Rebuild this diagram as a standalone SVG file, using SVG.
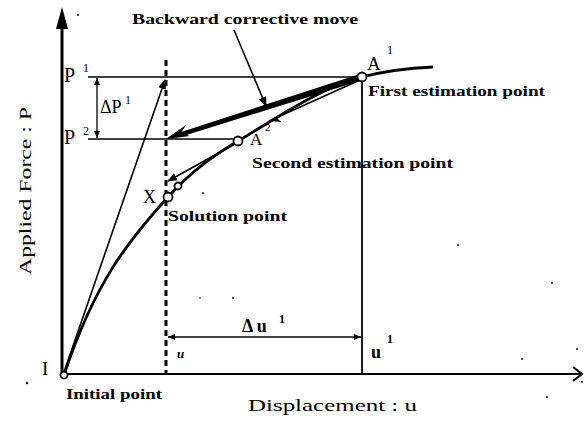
<svg xmlns="http://www.w3.org/2000/svg" width="586" height="423" viewBox="0 0 586 423">
<defs>
<style>
.t{font-family:"Liberation Serif","Times New Roman",serif;fill:#000}
.b{font-weight:bold}
.ln{stroke:#000;fill:none}
.pt{fill:#fff;stroke:#000;stroke-width:1.8}
.dot{fill:#000}
</style>
<marker id="ah" markerWidth="10" markerHeight="8" refX="9" refY="4" orient="auto" markerUnits="userSpaceOnUse">
<path d="M0,0 L10,4 L0,8 Z" fill="#000"/>
</marker>
<marker id="ahs" markerWidth="7" markerHeight="6" refX="7" refY="3" orient="auto-start-reverse" markerUnits="userSpaceOnUse">
<path d="M0,0 L7,3 L0,6 Z" fill="#000"/>
</marker>
<marker id="half" markerWidth="12" markerHeight="8" refX="11" refY="6" orient="auto" markerUnits="userSpaceOnUse">
<path d="M0,0 L11,6 L3,6 Z" fill="#000"/>
</marker>
</defs>
<rect width="586" height="423" fill="#fff"/>

<g id="axes">
<line class="ln" x1="62" y1="375" x2="62" y2="26" stroke-width="3"/>
<path d="M62,7 L56,29 L68,29 Z" fill="#000"/>
<line class="ln" x1="62" y1="374" x2="581" y2="374" stroke-width="2"/>
<path class="ln" d="M573,367 L582,374 L573,381" stroke-width="2"/>
</g>

<g id="guides">
<line class="ln" x1="166" y1="60" x2="166" y2="374" stroke-width="3" stroke-dasharray="6,4"/>
<line class="ln" x1="88" y1="77" x2="358" y2="77" stroke-width="1.5"/>
<line class="ln" x1="88" y1="139" x2="234" y2="139" stroke-width="1.5"/>
<line class="ln" x1="362" y1="81" x2="362" y2="374" stroke-width="1.8"/>
</g>

<g id="connectors">
<line class="ln" x1="97" y1="78" x2="97" y2="138" stroke-width="1.3" marker-start="url(#ahs)" marker-end="url(#ahs)"/>
<line class="ln" x1="168" y1="337" x2="361" y2="337" stroke-width="1.5" marker-start="url(#ahs)" marker-end="url(#ahs)"/>
<line class="ln" x1="64" y1="372" x2="165" y2="80" stroke-width="1.6" marker-end="url(#ah)"/>
<path class="ln" d="M64,375 C95,282 128,241 168,197 C193,169.5 213,156 238,141 C280,116 320,88 362,77 C385,71 410,68 433,67" stroke-width="2.8"/>
<polygon points="360,74 363,80 180,137 178,133" fill="#000"/>
<path d="M166,139 L186,125 L181,133 L190,136 Z" fill="#000"/>
<line class="ln" x1="360" y1="80" x2="269" y2="121" stroke-width="1.6" marker-end="url(#half)"/>
<line class="ln" x1="235" y1="144" x2="168" y2="181" stroke-width="1.6" marker-end="url(#ah)"/>
<line class="ln" x1="234" y1="30" x2="266" y2="106" stroke-width="1.5" marker-end="url(#ah)"/>
</g>

<g id="node-I"><circle class="pt" cx="64" cy="375" r="3.5"/></g>
<g id="node-A1"><circle class="pt" cx="362" cy="77" r="4.5"/></g>
<g id="node-A2"><circle class="pt" cx="238" cy="141" r="4.5"/></g>
<g id="node-X"><circle class="pt" cx="168" cy="197" r="4.5"/></g>
<g id="node-X2"><circle class="pt" cx="178" cy="186" r="3.5"/></g>

<g id="labels">
<text class="t b" x="132" y="24" font-size="15" textLength="226" lengthAdjust="spacingAndGlyphs">Backward corrective move</text>
<text class="t b" x="368" y="96" font-size="14" textLength="177" lengthAdjust="spacingAndGlyphs">First estimation point</text>
<text class="t b" x="252" y="168" font-size="14" textLength="201" lengthAdjust="spacingAndGlyphs">Second estimation point</text>
<text class="t b" x="168" y="221" font-size="14" textLength="119" lengthAdjust="spacingAndGlyphs">Solution point</text>
<text class="t b" x="66" y="399" font-size="14" textLength="96" lengthAdjust="spacingAndGlyphs">Initial point</text>
<text class="t" x="248" y="411" font-size="17" textLength="169" lengthAdjust="spacingAndGlyphs">Displacement : u</text>
<text class="t" transform="translate(31,275) rotate(-90)" x="0" y="0" font-size="17" textLength="168" lengthAdjust="spacingAndGlyphs">Applied Force : P</text>

<text class="t" x="42" y="375" font-size="19">I</text>
<text class="t" x="64" y="82" font-size="20">P</text>
<text class="t" x="83" y="72" font-size="12">1</text>
<text class="t" x="64" y="144" font-size="20">P</text>
<text class="t" x="83" y="135" font-size="12">2</text>
<text class="t" x="100" y="113" font-size="18">ΔP</text>
<text class="t" x="125" y="104" font-size="12">1</text>
<text class="t" x="143" y="203" font-size="18">X</text>
<text class="t" x="367" y="70" font-size="19">A</text>
<text class="t" x="387" y="54" font-size="12">1</text>
<text class="t" x="250" y="145" font-size="17">A</text>
<text class="t" x="265" y="131" font-size="11">2</text>
<text class="t b" x="242" y="332" font-size="18">Δ u</text>
<text class="t b" x="279" y="323" font-size="12">1</text>
<text class="t b" x="177" y="358" font-size="13" font-style="italic">u</text>
<text class="t b" x="371" y="358" font-size="18">u</text>
<text class="t b" x="387" y="343" font-size="12">1</text>
</g>

<g id="specks">
<circle class="dot" cx="78" cy="15" r="1"/>
<circle class="dot" cx="27" cy="383" r="1.2"/>
<circle class="dot" cx="203" cy="193" r="0.9"/>
<circle class="dot" cx="200" cy="298" r="0.8"/>
<circle class="dot" cx="233" cy="298" r="1"/>
<circle class="dot" cx="458" cy="245" r="0.9"/>
<circle class="dot" cx="552" cy="283" r="0.9"/>
<circle class="dot" cx="577" cy="349" r="0.9"/>
<circle class="dot" cx="522" cy="359" r="0.9"/>
<circle class="dot" cx="582" cy="382" r="0.9"/>
<circle class="dot" cx="547" cy="397" r="0.9"/>
</g>
</svg>
